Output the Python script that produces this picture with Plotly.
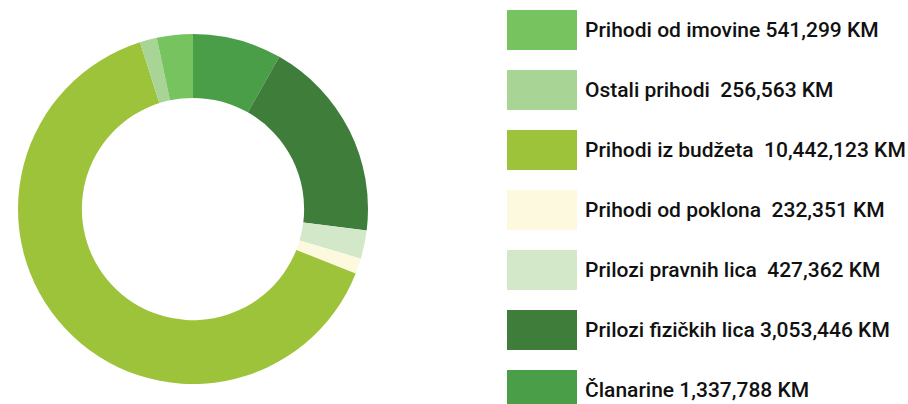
import plotly.graph_objects as go

# Data (clockwise from top)
labels = ["Članarine", "Prilozi fizičkih lica", "Prilozi pravnih lica",
          "Prihodi od poklona", "Prihodi iz budžeta", "Ostali prihodi",
          "Prihodi od imovine"]
values = [1337788, 3053446, 427362, 232351, 10442123, 256563, 541299]
colors = ["#4a9e47", "#3f7d3b", "#d3e8c8", "#fdf9df", "#9dc33b", "#a8d595", "#77c360"]
# legend text (top to bottom)
legend_labels = ["Prihodi od imovine 541,299 KM",
                 "Ostali prihodi\u00a0 256,563 KM",
                 "Prihodi iz budžeta\u00a0 10,442,123 KM",
                 "Prihodi od poklona\u00a0 232,351 KM",
                 "Prilozi pravnih lica\u00a0 427,362 KM",
                 "Prilozi fizičkih lica 3,053,446 KM",
                 "Članarine 1,337,788 KM"]
legend_colors = ["#77c360", "#a8d595", "#9dc33b", "#fdf9df", "#d3e8c8", "#3f7d3b", "#4a9e47"]

W, H = 908, 404
fig = go.Figure(go.Pie(
    labels=labels, values=values, sort=False, direction="clockwise", rotation=0,
    hole=0.635, marker=dict(colors=colors, line=dict(width=0)),
    textinfo="none", hoverinfo="skip", showlegend=False,
    domain=dict(x=[18 / W, 368 / W], y=[(H - 384) / H, (H - 34) / H]),
))

shapes, annotations = [], []
for i, (txt, col) in enumerate(zip(legend_labels, legend_colors)):
    top = 10 + 60 * i
    shapes.append(dict(type="rect", xref="paper", yref="paper",
                       x0=507 / W, x1=577 / W, y0=(H - top - 40) / H, y1=(H - top) / H,
                       fillcolor=col, line=dict(width=0)))
    annotations.append(dict(text=txt, xref="paper", yref="paper",
                            x=583 / W, y=(H - top - 20) / H, xanchor="left", yanchor="middle",
                            showarrow=False,
                            font=dict(family="Roboto, Liberation Sans, sans-serif",
                                      size=21, weight=500, color="#111111")))

fig.update_layout(width=W, height=H, margin=dict(l=0, r=0, t=0, b=0),
                  paper_bgcolor="white", plot_bgcolor="white",
                  shapes=shapes, annotations=annotations)
fig.write_html("out.html", config={"displayModeBar": False},
               post_script="document.body.style.margin='0';document.body.style.overflow='hidden';")
